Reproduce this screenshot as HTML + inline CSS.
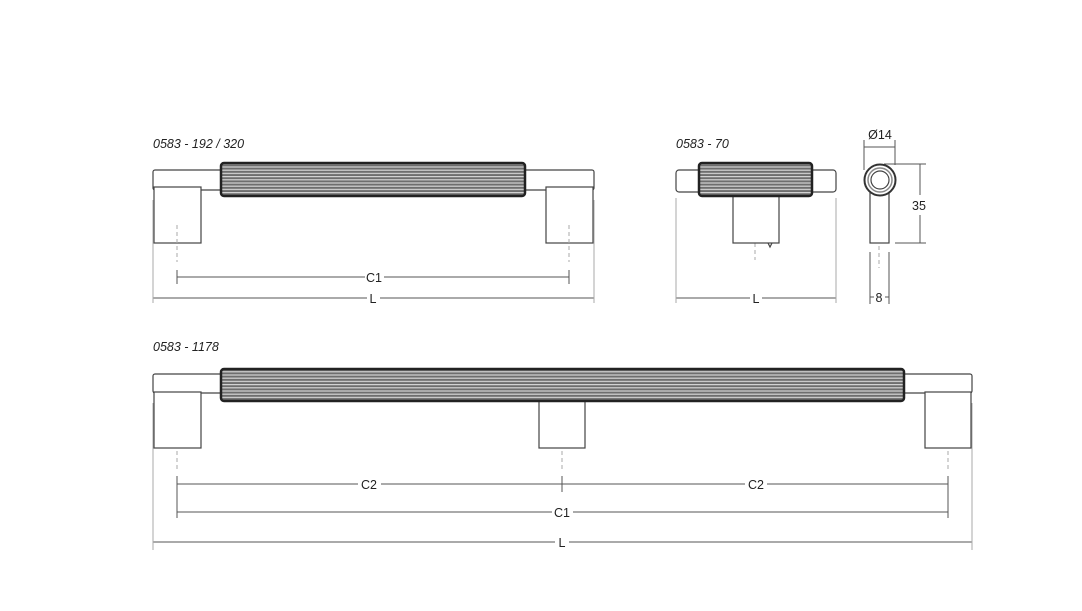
<!DOCTYPE html>
<html><head><meta charset="utf-8"><style>
html,body{margin:0;padding:0;background:#fff;}
svg{display:block;}
text{font-family:"Liberation Sans",sans-serif;fill:#222;}
</style></head><body>
<svg width="1082" height="611" viewBox="0 0 1082 611" xmlns="http://www.w3.org/2000/svg">
<defs>
<pattern id="rib" width="4" height="3.2" patternUnits="userSpaceOnUse">
<rect width="4" height="3.2" fill="#6e6e6e"/>
<rect y="0" width="4" height="1.2" fill="#d4d4d4"/>
</pattern>
</defs>
<g fill="none" stroke="#444" stroke-width="1.2">
<rect x="153" y="170" width="441" height="20" rx="2" fill="#fff"/>
<rect x="154" y="187" width="47" height="56" fill="#fff"/>
<rect x="546" y="187" width="47" height="56" fill="#fff"/>
<rect x="221" y="163" width="304" height="33" rx="3" fill="url(#rib)" stroke="#222" stroke-width="2.5"/>
</g>
<g stroke="#aaa" stroke-width="1" stroke-dasharray="4,3">
<line x1="177" y1="225" x2="177" y2="262"/><line x1="569" y1="225" x2="569" y2="262"/>
<line x1="755" y1="215" x2="755" y2="260"/><line x1="879" y1="218" x2="879" y2="268"/>
<line x1="177" y1="430" x2="177" y2="470"/><line x1="562" y1="430" x2="562" y2="470"/><line x1="948" y1="430" x2="948" y2="470"/>
</g>
<g stroke="#555" stroke-width="1" fill="none">
<line x1="177" y1="277" x2="365" y2="277"/><line x1="384" y1="277" x2="569" y2="277"/>
<line x1="177" y1="270" x2="177" y2="284"/><line x1="569" y1="270" x2="569" y2="284"/>
<line x1="153" y1="298" x2="367" y2="298"/><line x1="380" y1="298" x2="594" y2="298"/>
<line x1="153" y1="200" x2="153" y2="303" stroke="#aaa"/><line x1="594" y1="200" x2="594" y2="303" stroke="#aaa"/>
<line x1="676" y1="298" x2="750" y2="298"/><line x1="762" y1="298" x2="836" y2="298"/>
<line x1="676" y1="198" x2="676" y2="303" stroke="#aaa"/><line x1="836" y1="198" x2="836" y2="303" stroke="#aaa"/>
<line x1="864" y1="140" x2="864" y2="170"/><line x1="895" y1="140" x2="895" y2="165"/>
<line x1="864" y1="147" x2="895" y2="147"/>
<line x1="884" y1="164" x2="926" y2="164"/><line x1="895" y1="243" x2="926" y2="243"/>
<line x1="920" y1="164" x2="920" y2="195"/><line x1="920" y1="215" x2="920" y2="243"/>
<line x1="870" y1="252" x2="870" y2="304"/><line x1="889" y1="252" x2="889" y2="304"/>
<line x1="870" y1="297" x2="874" y2="297"/><line x1="885" y1="297" x2="889" y2="297"/>
<line x1="177" y1="484" x2="358" y2="484"/><line x1="381" y1="484" x2="745" y2="484"/><line x1="767" y1="484" x2="948" y2="484"/>
<line x1="177" y1="476" x2="177" y2="518"/><line x1="562" y1="476" x2="562" y2="492"/><line x1="948" y1="476" x2="948" y2="518"/>
<line x1="177" y1="512" x2="552" y2="512"/><line x1="573" y1="512" x2="948" y2="512"/>
<line x1="153" y1="542" x2="555" y2="542"/><line x1="569" y1="542" x2="972" y2="542"/>
<line x1="153" y1="403" x2="153" y2="550" stroke="#aaa"/><line x1="972" y1="403" x2="972" y2="550" stroke="#aaa"/>
</g>
<g fill="none" stroke="#444" stroke-width="1.2">
<rect x="676" y="170" width="160" height="22" rx="3" fill="#fff"/>
<rect x="733" y="194" width="46" height="49" fill="#fff"/>
<path d="M768 243 l2 4 l2 -4" />
<rect x="699" y="163" width="113" height="33" rx="3" fill="url(#rib)" stroke="#222" stroke-width="2.5"/>
<rect x="870" y="180" width="19" height="63" fill="#fff"/>
<circle cx="880" cy="180" r="15.5" fill="#fff" stroke="#333" stroke-width="2"/>
<circle cx="880" cy="180" r="12" stroke="#888" stroke-width="1.5"/>
<circle cx="880" cy="180" r="9" stroke="#444" fill="#fff"/>
<rect x="153" y="374" width="819" height="19" rx="2" fill="#fff"/>
<rect x="154" y="392" width="47" height="56" fill="#fff"/>
<rect x="925" y="392" width="46" height="56" fill="#fff"/>
<rect x="539" y="399" width="46" height="49" fill="#fff"/>
<rect x="221" y="369" width="683" height="32" rx="3" fill="url(#rib)" stroke="#222" stroke-width="2.5"/>
</g>
<g font-size="12.5" font-style="italic">
<text x="153" y="148">0583 - 192 / 320</text>
<text x="676" y="148">0583 - 70</text>
<text x="153" y="351">0583 - 1178</text>
</g>
<g font-size="12.5" text-anchor="middle">
<text x="374" y="282">C1</text>
<text x="373" y="303">L</text>
<text x="756" y="303">L</text>
<text x="880" y="139">Ø14</text>
<text x="919" y="210">35</text>
<text x="879" y="302">8</text>
<text x="369" y="489">C2</text>
<text x="756" y="489">C2</text>
<text x="562" y="517">C1</text>
<text x="562" y="547">L</text>
</g>
</svg>
</body></html>
